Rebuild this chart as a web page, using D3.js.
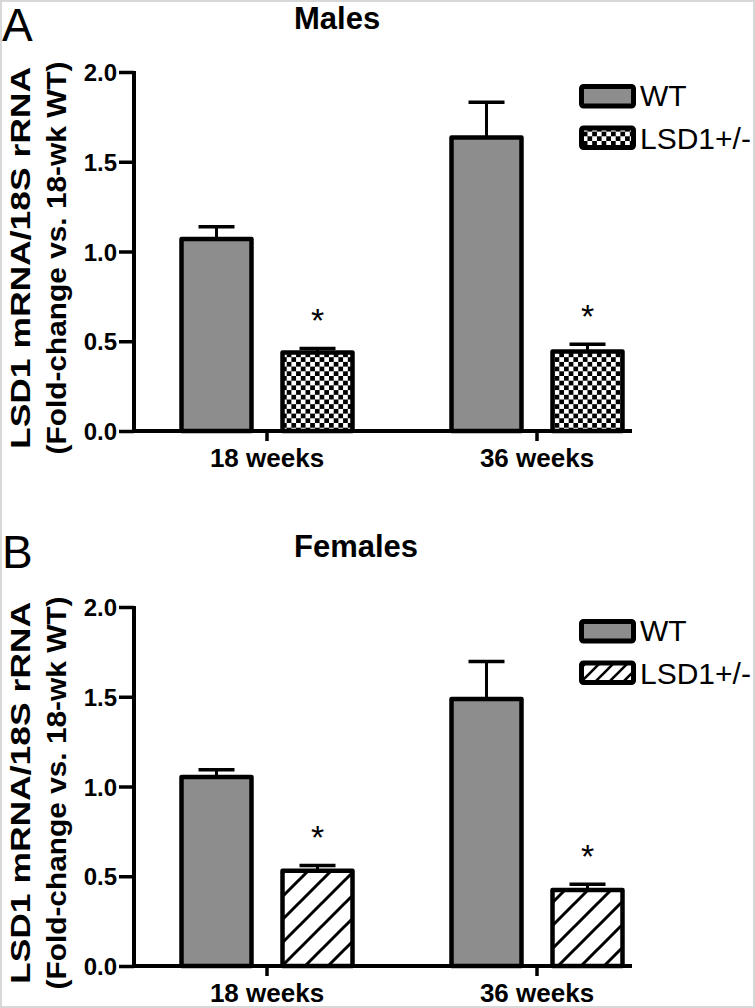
<!DOCTYPE html>
<html>
<head>
<meta charset="utf-8">
<script src="https://cdn.jsdelivr.net/npm/d3@7"></script>
<style>
  html, body { margin: 0; padding: 0; background: #fff; }
  svg { display: block; }
  text { font-family: "Liberation Sans", Arial, Helvetica, sans-serif; fill: #000; }
</style>
</head>
<body>
<div id="chart"></div>
<script>
// ---------- DATA ----------
const categories = ["18 weeks", "36 weeks"];
const seriesNames = ["WT", "LSD1+/-"];
const yTicks = [0.0, 0.5, 1.0, 1.5, 2.0];

// Panel A (Males)
const malesWT = [1.07, 1.635];
const malesWTErr = [0.068, 0.197];
const malesLSD = [0.438, 0.443];
const malesLSDErr = [0.022, 0.04];
const malesSig = [true, true];        // asterisks over LSD1+/- bars

// Panel B (Females)
const femalesWT = [1.053, 1.487];
const femalesWTErr = [0.04, 0.21];
const femalesLSD = [0.53, 0.423];
const femalesLSDErr = [0.03, 0.033];
const femalesSig = [true, true];

const panelLetters = ["A", "B"];
const panelTitles = ["Males", "Females"];
const yTitleLines = ["LSD1 mRNA/18S rRNA", "(Fold-change vs. 18-wk WT)"];

// ---------- LAYOUT ----------
const W = 755, H = 1008;
const svg = d3.select("#chart").append("svg").attr("width", W).attr("height", H);
svg.append("rect").attr("x", 0).attr("y", 0).attr("width", W).attr("height", H).attr("fill", "#fff");

const defs = svg.append("defs");
// checkerboard pattern
const chk = defs.append("pattern").attr("id", "checker").attr("patternUnits", "userSpaceOnUse")
  .attr("width", 9.4).attr("height", 9.4);
chk.append("rect").attr("width", 9.4).attr("height", 9.4).attr("fill", "#fff");
chk.append("rect").attr("width", 4.7).attr("height", 4.7).attr("fill", "#000");
chk.append("rect").attr("x", 4.7).attr("y", 4.7).attr("width", 4.7).attr("height", 4.7).attr("fill", "#000");
// hatch pattern (bars)
function hatch(id, s, sw) {
  const p = defs.append("pattern").attr("id", id).attr("patternUnits", "userSpaceOnUse")
    .attr("width", s).attr("height", s);
  p.append("rect").attr("width", s).attr("height", s).attr("fill", "#fff");
  p.append("path").attr("d", `M${-s/2},${s/2} L${s/2},${-s/2} M0,${s} L${s},0 M${s/2},${s*1.5} L${s*1.5},${s/2}`)
    .attr("stroke", "#000").attr("stroke-width", sw);
}
hatch("hatch", 23, 3);
hatch("hatchLeg", 14, 2.6);

const GREY = "#8d8d8d";

const x = d3.scaleBand().domain(categories).range([132, 672]).paddingInner(0).paddingOuter(0);
const xi = d3.scaleBand().domain(seriesNames).range([-85.5, 85.5]).paddingInner(0.307).paddingOuter(0);

function drawPanel(dy, idx, wt, wtErr, lsd, lsdErr, sig, lsdFill, legFill) {
  const g = svg.append("g").attr("transform", `translate(0,${dy})`);
  const y = d3.scaleLinear().domain([0, 2]).range([431, 72]);

  // panel letter
  g.append("text").attr("x", 2).attr("y", idx === 0 ? 41 : 33).attr("font-size", 46)
    .text(panelLetters[idx]);
  // title
  g.append("text").attr("x", 294).attr("y", idx === 0 ? 29 : 21.7).attr("font-size", 31)
    .attr("font-weight", "bold").text(panelTitles[idx]);

  // y-axis title
  g.append("text").attr("transform", "translate(29.5,258) rotate(-90)")
    .attr("text-anchor", "middle").attr("font-size", 27).attr("font-weight", "bold")
    .attr("textLength", 382).attr("lengthAdjust", "spacingAndGlyphs")
    .text(yTitleLines[0]);
  g.append("text").attr("transform", "translate(66,258) rotate(-90)")
    .attr("text-anchor", "middle").attr("font-size", 27).attr("font-weight", "bold")
    .attr("textLength", 393).attr("lengthAdjust", "spacingAndGlyphs")
    .text(yTitleLines[1]);

  // data rows
  const rows = [];
  categories.forEach((c, i) => {
    rows.push({ cat: c, ser: seriesNames[0], v: wt[i], e: wtErr[i], fill: GREY, sig: false });
    rows.push({ cat: c, ser: seriesNames[1], v: lsd[i], e: lsdErr[i], fill: lsdFill, sig: sig[i] });
  });
  const cx = d => x(d.cat) + x.bandwidth() / 2 + xi(d.ser) + xi.bandwidth() / 2;

  // error bars (upper only)
  g.selectAll(".err").data(rows).enter().append("line")
    .attr("x1", cx).attr("x2", cx).attr("y1", d => y(d.v)).attr("y2", d => y(d.v + d.e))
    .attr("stroke", "#000").attr("stroke-width", 3);
  g.selectAll(".cap").data(rows).enter().append("line")
    .attr("x1", d => cx(d) - 18).attr("x2", d => cx(d) + 18)
    .attr("y1", d => y(d.v + d.e)).attr("y2", d => y(d.v + d.e))
    .attr("stroke", "#000").attr("stroke-width", 3.5);

  // bars
  g.selectAll(".bar").data(rows).enter().append("rect")
    .attr("x", d => x(d.cat) + x.bandwidth() / 2 + xi(d.ser))
    .attr("width", xi.bandwidth())
    .attr("y", d => y(d.v)).attr("height", d => y(0) - y(d.v))
    .attr("fill", d => d.fill).attr("stroke", "#000").attr("stroke-width", 4.5)
    .attr("stroke-linejoin", "round");

  // asterisks
  g.selectAll(".sig").data(rows.filter(d => d.sig)).enter().append("text")
    .attr("x", cx).attr("y", d => y(d.v + d.e) - 16)
    .attr("text-anchor", "middle").attr("font-size", 34).text("*");

  // y axis
  const yAxis = d3.axisLeft(y).tickValues(yTicks).tickFormat(d3.format(".1f")).tickSize(15).tickPadding(2);
  const ya = g.append("g").attr("transform", "translate(134,0)").call(yAxis);
  ya.select(".domain").attr("stroke", "#000").attr("stroke-width", 4).attr("d", `M0,${y(2) - 1}V${y(0) + 2}`);
  ya.selectAll(".tick line").attr("stroke", "#000").attr("stroke-width", 3.5);
  ya.selectAll(".tick text").attr("font-size", 24).attr("font-weight", "bold")
    .attr("font-family", "Liberation Sans, Arial, sans-serif").attr("fill", "#000").attr("dy", "0.36em");

  // x axis
  const xAxis = d3.axisBottom(x).tickSize(10).tickPadding(8);
  const xa = g.append("g").attr("transform", `translate(0,${y(0)})`).call(xAxis);
  xa.select(".domain").attr("stroke", "#000").attr("stroke-width", 4).attr("d", `M132,0H632`);
  xa.selectAll(".tick line").attr("stroke", "#000").attr("stroke-width", 3.5);
  xa.selectAll(".tick text").attr("font-size", 26).attr("font-weight", "bold")
    .attr("font-family", "Liberation Sans, Arial, sans-serif").attr("fill", "#000");

  // legend
  const leg = g.append("g");
  const legFills = [GREY, legFill];
  const legY = [86.5, 128];
  const legTextY = [106, 148.5];
  seriesNames.forEach((s, i) => {
    leg.append("rect").attr("x", 581.5).attr("y", legY[i]).attr("width", 52).attr("height", 19.5)
      .attr("rx", 2).attr("fill", legFills[i]).attr("stroke", "#000").attr("stroke-width", 5);
    leg.append("text").attr("x", 640).attr("y", legTextY[i]).attr("font-size", 30).text(s);
  });
}

drawPanel(0, 0, malesWT, malesWTErr, malesLSD, malesLSDErr, malesSig, "url(#checker)", "url(#checker)");
drawPanel(535, 1, femalesWT, femalesWTErr, femalesLSD, femalesLSDErr, femalesSig, "url(#hatch)", "url(#hatchLeg)");

// faint frame
svg.append("rect").attr("x", 1).attr("y", 1).attr("width", W - 2).attr("height", H - 2)
  .attr("fill", "none").attr("stroke", "#d8d8d8").attr("stroke-width", 2);
</script>
</body>
</html>
